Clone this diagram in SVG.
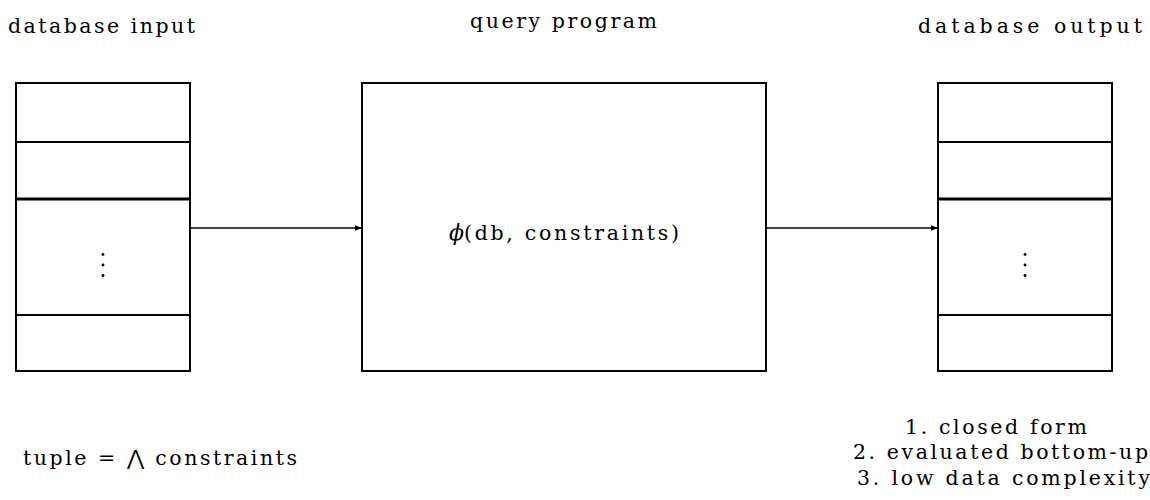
<svg xmlns="http://www.w3.org/2000/svg" width="1150" height="500" viewBox="0 0 1150 500">
<style>
.t{font-family:"DejaVu Serif","Liberation Serif",serif;font-size:20.5px;fill:#000}
.box{fill:#fff;stroke:#000;stroke-width:2}
.div{stroke:#000;stroke-width:2}
.thick{stroke:#000;stroke-width:2.8}
.edge{stroke:#000;stroke-width:1.6;fill:none}
</style>
<defs>
<marker id="ah" viewBox="0 0 10 10" refX="10" refY="5" markerWidth="10" markerHeight="7" markerUnits="userSpaceOnUse" orient="auto">
<path d="M0,1 L10,5 L0,9 Z" fill="#000"/>
</marker>
</defs>
<rect width="1150" height="500" fill="#fff"/>
<g id="labels">
<text class="t" x="8" y="33" textLength="187" lengthAdjust="spacing">database input</text>
<text class="t" x="470" y="28" textLength="187" lengthAdjust="spacing">query program</text>
<text class="t" x="918" y="33" textLength="224" lengthAdjust="spacing">database output</text>
</g>
<g id="input">
<rect class="box" x="16" y="83" width="174" height="288"/>
<line class="div" x1="16" y1="142" x2="190" y2="142"/>
<line class="thick" x1="16" y1="199" x2="190" y2="199"/>
<line class="div" x1="16" y1="315" x2="190" y2="315"/>
<circle cx="103" cy="254.5" r="1.4"/><circle cx="103" cy="265" r="1.4"/><circle cx="103" cy="275.5" r="1.4"/>
</g>
<g id="query">
<rect class="box" x="362" y="83" width="404" height="288"/>
<text class="t" x="449" y="240"><tspan font-style="italic" font-size="22">ϕ</tspan><tspan textLength="215" lengthAdjust="spacing">(db, constraints)</tspan></text>
</g>
<g id="output">
<rect class="box" x="938" y="83" width="174" height="288"/>
<line class="div" x1="938" y1="142" x2="1112" y2="142"/>
<line class="thick" x1="938" y1="199" x2="1112" y2="199"/>
<line class="div" x1="938" y1="315" x2="1112" y2="315"/>
<circle cx="1025" cy="254.5" r="1.4"/><circle cx="1025" cy="265" r="1.4"/><circle cx="1025" cy="275.5" r="1.4"/>
</g>
<g id="connectors">
<line class="edge" x1="190" y1="228" x2="362" y2="228" marker-end="url(#ah)"/>
<line class="edge" x1="766" y1="228" x2="938" y2="228" marker-end="url(#ah)"/>
</g>
<g id="notes">
<text class="t" x="23" y="465" textLength="274" lengthAdjust="spacing">tuple = ⋀ constraints</text>
<text class="t" x="905" y="434" textLength="182" lengthAdjust="spacing">1. closed form</text>
<text class="t" x="853" y="459" textLength="295" lengthAdjust="spacing">2. evaluated bottom-up</text>
<text class="t" x="857" y="485" textLength="293" lengthAdjust="spacing">3. low data complexity</text>
</g>
</svg>
